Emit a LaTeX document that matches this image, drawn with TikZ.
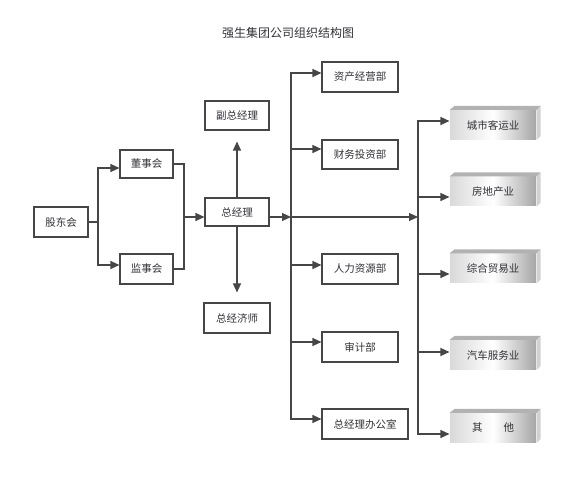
\documentclass[tikz,border=0pt]{standalone}
\usepackage{fontspec}
\newfontfamily\cjk{Noto Sans CJK SC}
\usetikzlibrary{arrows.meta}
\definecolor{xian}{RGB}{70,70,70}
\definecolor{zi}{RGB}{50,50,55}
\begin{document}
\begin{tikzpicture}[x=1pt, y=-1pt, color=xian, line width=1.1pt,
  every node/.style={font=\cjk\fontsize{10.5}{12}\selectfont, text=zi, inner sep=0pt},
  kuang/.style={draw=xian, line width=1.1pt, fill=white, minimum height=29pt},
  hangye/.style={minimum width=86pt, minimum height=29pt, left color=gray!30,
                 right color=gray!70, middle color=white},
  jian/.style={-{Triangle[length=9pt,width=8pt]}}]
  \useasboundingbox (0,0) rectangle (587,489);
  % title
  \node[font=\cjk\fontsize{12}{14}\selectfont] (biaoti) at (288,33) {强生集团公司组织结构图};
  % left part
  \node[kuang, minimum width=54pt, minimum height=30pt] (gdh) at (61,222) {股东会};
  \node[kuang, minimum width=53pt, minimum height=28pt] (dsh) at (146.5,164) {董事会};
  \node[kuang, minimum width=53pt, minimum height=30pt] (jsh) at (146.5,269) {监事会};
  \node[kuang, minimum width=64pt, minimum height=28pt] (zjl) at (237,212) {总经理};
  \node[kuang, minimum width=64pt] (fzjl) at (237,115.5) {副总经理};
  \node[kuang, minimum width=66pt, minimum height=30pt] (zjjs) at (237,318) {总经济师};
  % departments
  \node[kuang, minimum width=76pt, minimum height=30pt] (zc) at (360,77) {资产经营部};
  \node[kuang, minimum width=76pt] (cw) at (360,154.5) {财务投资部};
  \node[kuang, minimum width=76pt, minimum height=30pt] (rl) at (360,269) {人力资源部};
  \node[kuang, minimum width=76pt, minimum height=30pt] (sj) at (360,347) {审计部};
  \node[kuang, minimum width=86pt, minimum height=30pt] (bgs) at (365,424) {总经理办公室};
  % industries
  \node[hangye] (csky) at (493,125) {城市客运业};
  \node[hangye] (fd) at (493,191.5) {房地产业};
  \node[hangye] (zm) at (493,268.5) {综合贸易业};
  \node[hangye] (qc) at (493,355) {汽车服务业};
  \node[hangye] (qt) at (493,428) {其　　他};
  \foreach \n in {csky,fd,zm,qc,qt}{
    \fill[gray!60] (\n.north west) -- ++(5,-4) -- ([shift={(4,-4)}]\n.north east)
      -- (\n.north east) -- cycle;
    \fill[gray!35] (\n.north east) -- ([shift={(4,-4)}]\n.north east)
      -- ([shift={(4,-4)}]\n.south east) -- (\n.south east) -- cycle;
  }
  % connectors
  \coordinate (s1) at (98,222);
  \coordinate (s2) at (184,217);
  \coordinate (s3) at (291,217);
  \coordinate (s4) at (418,217);
  \draw (gdh.east) -- (s1);
  \draw[jian] (s1) |- ([yshift=-4pt]dsh.west);
  \draw[jian] (s1) |- ([yshift=4pt]jsh.west);
  \draw (dsh.east) -| (s2) |- (jsh.east);
  \draw[jian] (s2) -- (zjl.west |- s2);
  \draw[jian, shorten >=11pt] (zjl.north) -- (fzjl.south);
  \draw[jian, shorten >=10pt] (zjl.south) -- (zjjs.north);
  \draw[jian] (zjl.east |- s2) -- (s3);
  \draw[jian] (s3) -- (s4);
  \foreach \n/\s in {zc/4,cw/5.5,rl/4,sj/5,bgs/5}
    \draw[jian] (s3) |- ([yshift=\s pt]\n.west);
  \foreach \n/\s in {csky/4,fd/-5.5,zm/-5.5,qc/3,qt/-6}
    \draw[jian] (s4) |- ([yshift=\s pt]\n.west);
\end{tikzpicture}
\end{document}
